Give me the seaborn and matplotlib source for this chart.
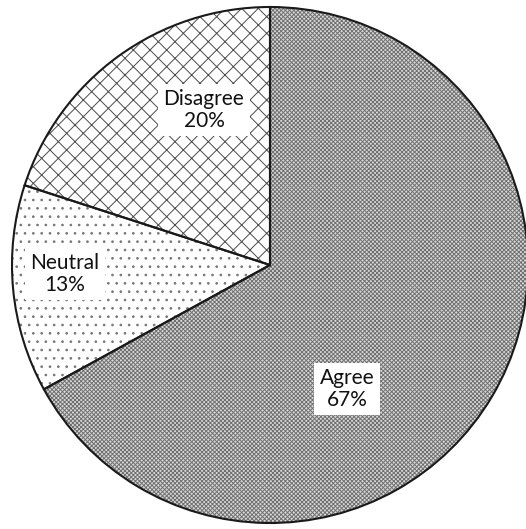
import matplotlib
matplotlib.use("Agg")
import matplotlib.pyplot as plt
import seaborn as sns

sns.set_theme(style="white")
plt.rcParams['font.family'] = ['Lato', 'DejaVu Sans']
plt.rcParams['hatch.linewidth'] = 0.7

categories = ["Agree", "Neutral", "Disagree"]
shares = [67, 13, 20]
hatches = ["xxxxxxxx", "..", "xx"]
hatch_colors = ["#707070", "#777777", "#4a4a4a"]
faces = ["#dadada", "white", "white"]
label_pos = [(0.298, -0.481), (-0.795, -0.035), (-0.256, 0.601)]

fig = plt.figure(figsize=(5.26, 5.29), dpi=100)
ax = fig.add_axes([12 / 526, 6 / 529, 516 / 526, 516 / 529])

# textured fills
wedges, _ = ax.pie(shares, startangle=90, counterclock=False, radius=1,
                   colors=faces, wedgeprops=dict(linewidth=0))
for w, h, hc in zip(wedges, hatches, hatch_colors):
    w.set_hatch(h)
    w.set_edgecolor(hc)
    w.set_linewidth(0)

# slice outlines
ax.pie(shares, startangle=90, counterclock=False, radius=1,
       wedgeprops=dict(facecolor="none", edgecolor="#1a1a1a", linewidth=1.5))

for cat, val, (x, y) in zip(categories, shares, label_pos):
    ax.text(x, y, f"{cat}\n{val}%", ha="center", va="center", fontsize=15,
            color="#111111", linespacing=1.08,
            bbox=dict(facecolor="white", edgecolor="none", pad=4))

ax.set_xlim(-1, 1)
ax.set_ylim(-1, 1)
ax.set_aspect("equal")
ax.axis("off")
fig.savefig("out.png", dpi=100, facecolor="white")
